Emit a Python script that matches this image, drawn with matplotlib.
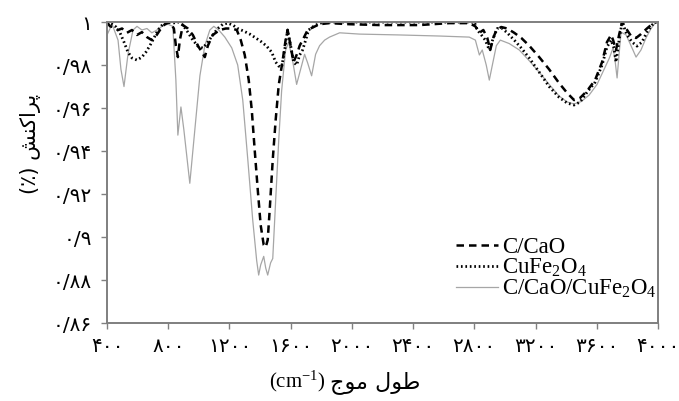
import matplotlib
matplotlib.use("Agg")
import matplotlib.pyplot as plt

# spectra: wavenumber (cm-1) and transmittance
wn_cao = [400, 420, 439, 472, 498, 530, 563, 596, 628, 661, 693, 720, 746, 778, 811, 837, 850, 863, 876,
          896, 928, 961, 994, 1020, 1039, 1059, 1091, 1137, 1176, 1215, 1248, 1274, 1300, 1326, 1346, 1365,
          1385, 1404, 1424, 1437, 1450, 1463, 1483, 1502, 1522, 1548, 1567, 1580, 1600, 1619, 1639, 1659,
          1685, 1711, 1750, 1789, 1854, 1985, 2180, 2441, 2637, 2767, 2807, 2833, 2859, 2885, 2904, 2924,
          2944, 2976, 3015, 3061, 3107, 3159, 3224, 3289, 3354, 3407, 3452, 3491, 3537, 3589, 3635, 3667,
          3694, 3707, 3726, 3746, 3766, 3792, 3824, 3857, 3889, 3928, 3961, 3987]
tr_cao = [1.0, 0.998, 0.9977, 0.9963, 0.997, 0.995, 0.9963, 0.994, 0.9953, 0.993, 0.9916, 0.9935, 0.9963,
          0.999, 1.0, 0.997, 0.989, 0.9837, 0.9916, 0.9986, 0.997, 0.994, 0.989, 0.986, 0.9837, 0.989, 0.994,
          0.9963, 0.997, 0.997, 0.9963, 0.9916, 0.9847, 0.973, 0.959, 0.9405, 0.922, 0.9056, 0.8963, 0.8953,
          0.8986, 0.9126, 0.936, 0.9544, 0.9707, 0.9823, 0.9916, 0.9963, 0.989, 0.9814, 0.9847, 0.989,
          0.9926, 0.9963, 0.9977, 0.999, 0.9995, 0.999, 0.9986, 0.9986, 0.9995, 0.9995, 0.998, 0.995,
          0.9963, 0.9926, 0.987, 0.9926, 0.9963, 0.9977, 0.997, 0.995, 0.9926, 0.989, 0.9837, 0.978,
          0.9716, 0.967, 0.9637, 0.9647, 0.968, 0.973, 0.9814, 0.9907, 0.994, 0.9916, 0.987, 0.994, 1.0,
          0.997, 0.9935, 0.9926, 0.9944, 0.997, 0.999, 1.0]

wn_fe = [400, 433, 459, 485, 511, 537, 563, 596, 628, 654, 680, 707, 733, 765, 798, 830, 863, 896, 928,
         961, 994, 1026, 1059, 1091, 1124, 1157, 1189, 1222, 1254, 1293, 1333, 1372, 1411, 1443, 1476,
         1502, 1522, 1541, 1561, 1580, 1600, 1619, 1639, 1659, 1678, 1698, 1717, 1750, 1789, 1854, 2300,
         2800, 2820, 2846, 2872, 2898, 2924, 2950, 2983, 3015, 3061, 3107, 3159, 3224, 3289, 3354, 3407,
         3452, 3491, 3537, 3589, 3635, 3667, 3694, 3713, 3726, 3746, 3766, 3798, 3831, 3863, 3896, 3928,
         3961, 3987]
tr_fe = [1.0, 0.999, 0.9977, 0.995, 0.9907, 0.986, 0.9833, 0.9823, 0.9837, 0.986, 0.989, 0.9926, 0.9963,
         0.999, 1.0, 0.9995, 1.0, 0.9986, 0.9953, 0.9916, 0.9888, 0.9879, 0.9907, 0.994, 0.997, 0.999,
         0.9995, 0.9986, 0.997, 0.9958, 0.9944, 0.9926, 0.9907, 0.9888, 0.986, 0.9814, 0.9795, 0.979,
         0.987, 0.9963, 0.989, 0.9814, 0.98, 0.9847, 0.987, 0.9916, 0.9963, 0.998, 0.9995, 1.0, 1.0,
         1.0, 0.9963, 0.994, 0.9916, 0.987, 0.9926, 0.997, 0.997, 0.995, 0.9916, 0.9879, 0.9833, 0.9767,
         0.970, 0.965, 0.9623, 0.9614, 0.9628, 0.9674, 0.972, 0.98, 0.9884, 0.9916, 0.9879, 0.9814,
         0.9916, 1.0, 0.994, 0.9907, 0.9888, 0.9907, 0.9953, 0.9986, 1.0]

wn_mix = [400, 433, 472, 491, 511, 537, 570, 596, 628, 661, 693, 726, 759, 798, 830, 850, 863, 883, 902,
          941, 974, 1007, 1039, 1072, 1098, 1130, 1170, 1215, 1254, 1287, 1320, 1352, 1378, 1391, 1404,
          1424, 1437, 1450, 1469, 1483, 1502, 1522, 1541, 1567, 1587, 1613, 1639, 1665, 1691, 1711, 1737,
          1763, 1789, 1822, 1854, 1920, 2050, 2311, 2572, 2767, 2807, 2833, 2852, 2878, 2898, 2918, 2944,
          2970, 3028, 3094, 3159, 3224, 3289, 3354, 3407, 3452, 3498, 3550, 3602, 3648, 3681, 3707, 3720,
          3733, 3746, 3759, 3792, 3824, 3857, 3889, 3922, 3955, 3987]
tr_mix = [0.994, 0.999, 0.9916, 0.978, 0.970, 0.985, 0.9963, 0.998, 0.9963, 0.997, 0.995, 0.9963, 0.998,
          0.999, 0.998, 0.973, 0.9474, 0.9605, 0.950, 0.925, 0.950, 0.975, 0.989, 0.9963, 0.998, 0.9963,
          0.993, 0.988, 0.980, 0.9637, 0.936, 0.908, 0.889, 0.8823, 0.887, 0.891, 0.8856, 0.8823, 0.888,
          0.890, 0.917, 0.945, 0.968, 0.987, 0.9907, 0.982, 0.971, 0.978, 0.985, 0.981, 0.975, 0.985, 0.989,
          0.9916, 0.993, 0.995, 0.9944, 0.994, 0.9935, 0.993, 0.9916, 0.9847, 0.987, 0.980, 0.973, 0.980,
          0.989, 0.9916, 0.990, 0.987, 0.982, 0.9767, 0.971, 0.9656, 0.9628, 0.9619, 0.963, 0.966, 0.971,
          0.978, 0.983, 0.988, 0.982, 0.974, 0.985, 0.9953, 0.994, 0.989, 0.9837, 0.987, 0.9926, 0.997, 1.0]

x_ticks = [400, 800, 1200, 1600, 2000, 2400, 2800, 3200, 3600, 4000]
x_tick_labels = ["۴۰۰", "۸۰۰", "۱۲۰۰", "۱۶۰۰", "۲۰۰۰", "۲۴۰۰", "۲۸۰۰", "۳۲۰۰", "۳۶۰۰", "۴۰۰۰"]
y_ticks = [0.86, 0.88, 0.90, 0.92, 0.94, 0.96, 0.98, 1.0]
y_tick_labels = ["۰/۸۶", "۰/۸۸", "۰/۹", "۰/۹۲", "۰/۹۴", "۰/۹۶", "۰/۹۸", "۱"]

# Persian labels written in presentation forms, left-to-right visual order
ylabel_fa = "(٪) \ufeb6\ufee8\ufb90\ufe8d\ufeae\ufb58"
xlabel_fa = "\ufe9d\ufeee\ufee3 \ufedd\ufeee\ufec3"

plt.rcParams["mathtext.fontset"] = "custom"
plt.rcParams["mathtext.rm"] = "Liberation Serif"
plt.rcParams["mathtext.it"] = "Liberation Serif:italic"

fig = plt.figure(figsize=(6.79, 4.01), dpi=100)
ax = fig.add_axes([0.1576, 0.1945, 0.8114, 0.7505])

ax.plot(wn_mix, tr_mix, color="#a6a6a6", lw=0.9, label="C/CaO/CuFe$_2$O$_4$")
ax.plot(wn_cao, tr_cao, color="black", lw=1.8, ls=(0, (3, 2)), label="C/CaO")
ax.plot(wn_fe, tr_fe, color="black", lw=2.0, ls=(0, (0.6, 1.0)), label="CuFe$_2$O$_4$")

ax.set_xlim(400, 4000)
ax.set_ylim(0.86, 1.0)
ax.set_xticks(x_ticks)
ax.set_xticklabels(x_tick_labels, family="DejaVu Sans", fontsize=14.5)
ax.set_yticks(y_ticks)
ax.set_yticklabels(y_tick_labels, family="DejaVu Sans", fontsize=14.5)
ax.tick_params(axis="both", direction="out", length=4, width=1, color="#808080")
ax.tick_params(axis="x", pad=6)
ax.tick_params(axis="y", pad=7)
for side in ["left", "bottom", "top", "right"]:
    ax.spines[side].set_color("#7f7f7f")
    ax.spines[side].set_linewidth(1.4)

handles, labels = ax.get_legend_handles_labels()
order = [1, 2, 0]
leg = ax.legend([handles[i] for i in order], [labels[i] for i in order],
                loc="lower right", bbox_to_anchor=(0.998, 0.075), frameon=False,
                prop={"family": "Liberation Serif", "size": 16.5},
                handlelength=1.8, handletextpad=0.2, labelspacing=-0.05,
                borderpad=0, borderaxespad=0)

fig.text(0.045, 0.64, ylabel_fa, rotation=90, family="DejaVu Sans", fontsize=15,
         ha="center", va="center")
fig.text(0.552, 0.045, xlabel_fa, family="DejaVu Sans", fontsize=16, ha="center", va="center")
fig.text(0.438, 0.048, "(cm$^{-1}$)", family="Liberation Serif", fontsize=15, ha="center", va="center")

fig.savefig("out.png", dpi=100)
